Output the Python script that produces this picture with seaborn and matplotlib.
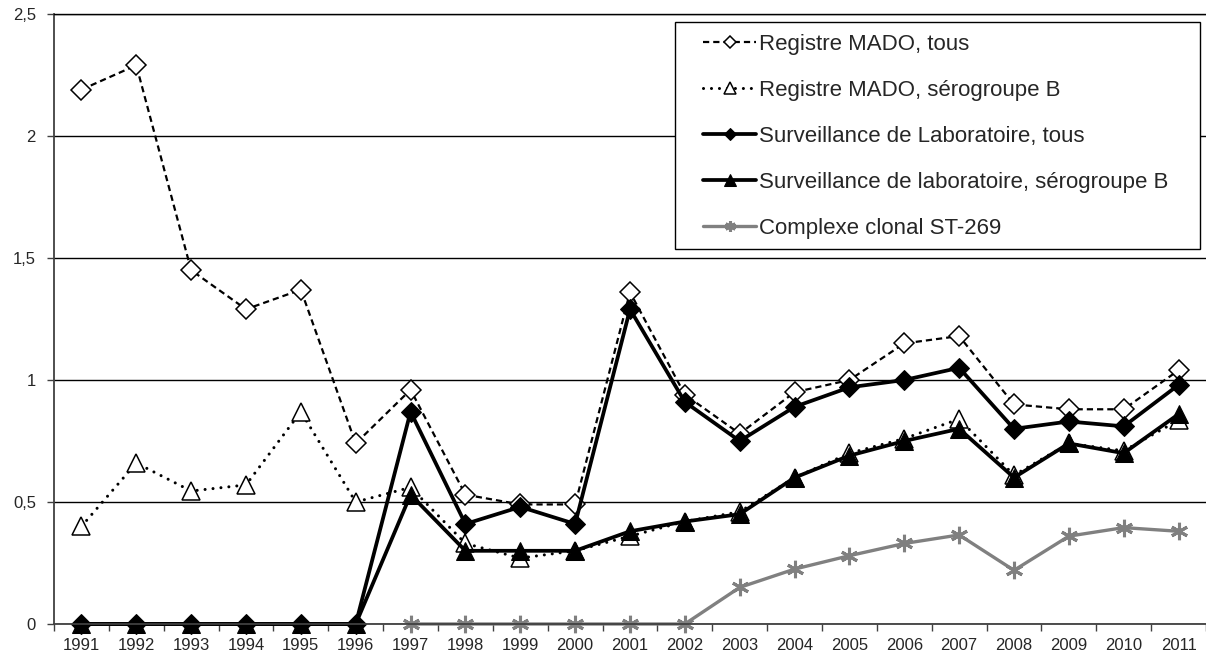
import matplotlib
matplotlib.use("Agg")
import matplotlib.pyplot as plt
import seaborn as sns
from matplotlib.ticker import FixedLocator
from matplotlib.patches import Rectangle

# valeurs
annees = list(range(1991, 2012))
mado_tous = [2.19, 2.29, 1.45, 1.29, 1.37, 0.74, 0.96, 0.53, 0.49, 0.49, 1.36,
             0.94, 0.78, 0.95, 1.00, 1.15, 1.18, 0.90, 0.88, 0.88, 1.04]
mado_b = [0.40, 0.66, 0.545, 0.57, 0.87, 0.50, 0.56, 0.33, 0.27, 0.30, 0.36,
          0.42, 0.46, 0.60, 0.70, 0.76, 0.84, 0.61, 0.74, 0.71, 0.835]
labo_tous = [0, 0, 0, 0, 0, 0, 0.87, 0.41, 0.48, 0.41, 1.29,
             0.91, 0.75, 0.89, 0.97, 1.00, 1.05, 0.80, 0.83, 0.81, 0.98]
labo_b = [0, 0, 0, 0, 0, 0, 0.53, 0.30, 0.30, 0.30, 0.38,
          0.42, 0.45, 0.60, 0.69, 0.75, 0.80, 0.60, 0.74, 0.70, 0.86]
annees_st269 = list(range(1997, 2012))
st269 = [0, 0, 0, 0, 0, 0, 0.15, 0.225, 0.28, 0.33, 0.365, 0.22, 0.36, 0.395, 0.38]

noms = ["Registre MADO, tous",
        "Registre MADO, sérogroupe B",
        "Surveillance de Laboratoire, tous",
        "Surveillance de laboratoire, sérogroupe B",
        "Complexe clonal ST-269"]
y_ticks = [0, 0.5, 1, 1.5, 2, 2.5]
y_labels = ["0", "0,5", "1", "1,5", "2", "2,5"]

sns.set_style("white")
plt.rcParams["font.family"] = ["Liberation Sans", "DejaVu Sans"]

W, H = 1206, 660
fig = plt.figure(figsize=(W / 100, H / 100), dpi=100)
ax = fig.add_axes([54 / W, 1 - 624 / H, 1152 / W, 610 / H])

sns.lineplot(x=annees, y=mado_tous, ax=ax, color="black", lw=1.6,
             linestyle=(0, (2.8, 1.8)), marker="D", markersize=10,
             markerfacecolor="white", markeredgecolor="black",
             markeredgewidth=1.1, label=noms[0], clip_on=False)
sns.lineplot(x=annees, y=mado_b, ax=ax, color="black", lw=2.2,
             linestyle=(0, (0.01, 2.6)), dash_capstyle="round", marker="^",
             markersize=13, markerfacecolor="white", markeredgecolor="black",
             markeredgewidth=1.1, label=noms[1], clip_on=False)
sns.lineplot(x=annees, y=labo_tous, ax=ax, color="black", lw=2.7,
             marker="D", markersize=10.5, markerfacecolor="black",
             markeredgecolor="black", label=noms[2], clip_on=False)
sns.lineplot(x=annees, y=labo_b, ax=ax, color="black", lw=2.7,
             marker="^", markersize=13, markerfacecolor="black",
             markeredgecolor="black", label=noms[3], clip_on=False)
sns.lineplot(x=annees_st269, y=st269, ax=ax, color="#808080", lw=2.4,
             marker=(6, 2, 0), markersize=12.5, markeredgewidth=2.2,
             markeredgecolor="#808080", label=noms[4], clip_on=False)

ax.set_xlim(1990.5, 2011.5)
ax.set_ylim(0, 2.5)
ax.set_xticks(annees)
ax.set_xticklabels([str(a) for a in annees], fontsize=12)
ax.xaxis.set_minor_locator(FixedLocator([a - 0.5 for a in annees] + [2011.5]))
ax.tick_params(axis="x", which="major", length=0, pad=10)
ax.tick_params(axis="x", which="minor", length=5, width=1, color="#404040",
               direction="out", bottom=True)
ax.set_yticks(y_ticks)
ax.set_yticklabels(y_labels, fontsize=12)
ax.tick_params(axis="y", length=5, width=1, color="#404040", direction="out",
               left=True, pad=8)

ax.grid(axis="y", color="black", lw=1)
ax.grid(axis="x", visible=False)
ax.spines["right"].set_visible(False)
ax.spines["top"].set_color("black")
ax.spines["top"].set_linewidth(1)
for s in ["left", "bottom"]:
    ax.spines[s].set_color("#404040")
    ax.spines[s].set_linewidth(1.3)
ax.set_xlabel("")
ax.set_ylabel("")

# cadre de la légende (comme dans Excel)
cadre = Rectangle((675 / W, 1 - 249 / H), 525 / W, 227 / H,
                  transform=fig.transFigure, facecolor="white",
                  edgecolor="black", lw=1, clip_on=False, zorder=4)
ax.add_patch(cadre)

leg = ax.legend(loc="upper left", bbox_to_anchor=(703 / W, 1 - 34 / H),
                bbox_transform=fig.transFigure, borderaxespad=0, borderpad=0,
                fontsize=16, markerscale=0.62, handlelength=2.4,
                handletextpad=0.1, labelspacing=1.12, frameon=False)
leg.set_zorder(5)

fig.savefig("out.png", dpi=100)
